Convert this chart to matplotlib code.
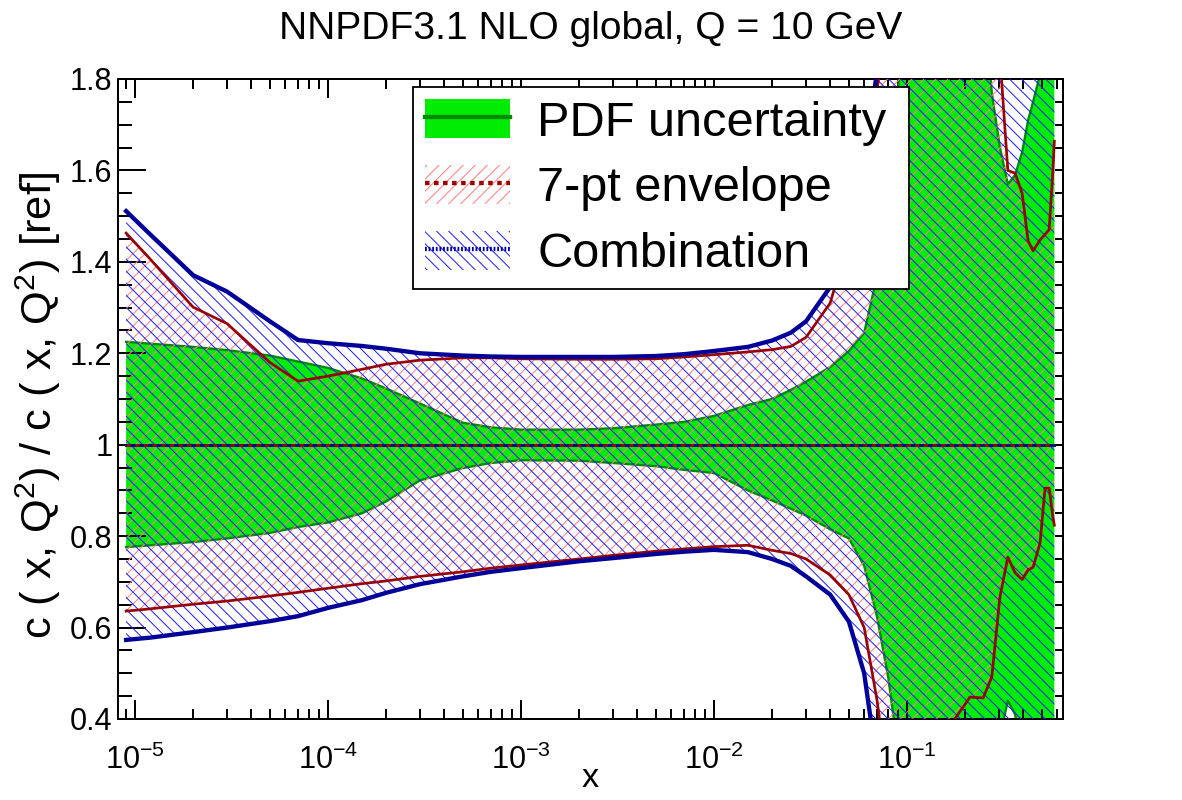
import numpy as np
import matplotlib
matplotlib.use('Agg')
import matplotlib.pyplot as plt
from matplotlib.patches import Patch
from matplotlib.lines import Line2D
from matplotlib.ticker import LogLocator, MultipleLocator, NullFormatter, FuncFormatter

DPI = 145
K = 130 / DPI  # sizes below were tuned for 130 dpi


def pt(v):
    return v * K


plt.rcParams['font.family'] = ['Liberation Sans', 'DejaVu Sans']
plt.rcParams['mathtext.fontset'] = 'custom'
plt.rcParams['mathtext.rm'] = 'Liberation Sans'
plt.rcParams['mathtext.it'] = 'Liberation Sans:italic'
plt.rcParams['mathtext.bf'] = 'Liberation Sans:bold'
plt.rcParams['hatch.linewidth'] = 0.5
plt.rcParams['lines.scale_dashes'] = False

# x grid
x = [9e-6, 1.2e-5, 2e-5, 3e-5, 5e-5, 7e-5, 1e-4, 1.5e-4, 2e-4, 3e-4,
     5e-4, 7e-4, 1e-3, 2e-3, 3e-3, 5e-3, 7e-3, 1e-2, 1.5e-2, 2e-2,
     2.5e-2, 3e-2, 4e-2, 5e-2, 6e-2, 7e-2, 8e-2, 9e-2, 0.1, 0.12,
     0.15, 0.177, 0.212, 0.248, 0.275, 0.303, 0.333, 0.363, 0.395, 0.424,
     0.45, 0.489, 0.519, 0.545, 0.57, 0.58]

# PDF uncertainty band
pdf_hi = [1.225, 1.221, 1.214, 1.207, 1.195, 1.182, 1.168, 1.145, 1.123, 1.09,
          1.048, 1.038, 1.033, 1.033, 1.036, 1.044, 1.05, 1.063, 1.087, 1.10,
          1.12, 1.138, 1.17, 1.205, 1.245, 1.37, 1.6, 1.78, 1.95, 2.2,
          2.3, 2.3, 2.2, 2.0, 1.77, 1.65, 1.57, 1.59, 1.64, 1.71,
          1.75, 1.81, 2.0, 2.2, 2.2, 2.2]
pdf_lo = [0.776, 0.78, 0.787, 0.795, 0.807, 0.82, 0.83, 0.85, 0.876, 0.922,
          0.949, 0.96, 0.966, 0.965, 0.96, 0.953, 0.945, 0.938, 0.90, 0.878,
          0.86, 0.845, 0.815, 0.795, 0.735, 0.623, 0.49, 0.33, 0.25, 0.15,
          0.15, 0.15, 0.2, 0.2, 0.3, 0.36, 0.44, 0.41, 0.32, 0.2,
          0.2, 0.2, 0.2, 0.2, 0.2, 0.2]

# 7-pt scale variation envelope
sv_hi = [1.463, 1.406, 1.301, 1.265, 1.18, 1.139, 1.15, 1.165, 1.176, 1.185,
         1.19, 1.19, 1.188, 1.187, 1.187, 1.188, 1.192, 1.197, 1.203, 1.208,
         1.215, 1.235, 1.31, 1.45, 1.65, 1.78, 1.92, 2.05, 2.1, 2.1,
         2.1, 2.1, 2.1, 2.05, 2.0, 1.85, 1.6, 1.594, 1.55, 1.446,
         1.424, 1.448, 1.46, 1.47, 1.6, 1.664]
sv_lo = [0.636, 0.641, 0.651, 0.658, 0.669, 0.677, 0.686, 0.696, 0.702, 0.712,
         0.722, 0.73, 0.737, 0.75, 0.758, 0.767, 0.772, 0.777, 0.78, 0.769,
         0.762, 0.75, 0.715, 0.672, 0.6, 0.44, 0.25, 0.2, 0.2, 0.2,
         0.3, 0.4, 0.448, 0.446, 0.492, 0.667, 0.754, 0.72, 0.705, 0.726,
         0.732, 0.785, 0.905, 0.905, 0.842, 0.824]

# combination
comb_hi = [1.511, 1.46, 1.371, 1.335, 1.27, 1.229, 1.222, 1.216, 1.21, 1.2,
           1.195, 1.193, 1.192, 1.192, 1.192, 1.194, 1.198, 1.205, 1.214, 1.228,
           1.245, 1.27, 1.345, 1.45, 1.6, 1.82, 2.2, 2.5, 2.5, 2.5,
           2.5, 2.5, 2.5, 2.5, 2.5, 2.5, 2.5, 2.5, 2.5, 2.5,
           2.5, 2.5, 2.5, 2.5, 2.5, 2.5]
comb_lo = [0.573, 0.578, 0.59, 0.6, 0.614, 0.625, 0.643, 0.66, 0.676, 0.695,
           0.712, 0.722, 0.73, 0.745, 0.752, 0.761, 0.766, 0.77, 0.765, 0.75,
           0.735, 0.712, 0.672, 0.613, 0.5, 0.3, 0.1, 0.0, 0.0, 0.0,
           0.0, 0.0, 0.0, 0.0, 0.0, 0.0, 0.0, 0.0, 0.0, 0.0,
           0.0, 0.0, 0.0, 0.0, 0.0, 0.0]

green = '#00ec00'
dgreen = '#008a00'
dred = '#990000'
lred = '#ff8080'
dblue = '#000099'
hblue = '#2020ff'

fig = plt.figure(figsize=(1182 / DPI, 800 / DPI), dpi=DPI)
ax = fig.add_axes([118 / 1182, 81 / 800, 945 / 1182, 640 / 800])

ax.fill_between(x, pdf_lo, pdf_hi, facecolor=green, edgecolor='none', linewidth=0, zorder=1)
ax.plot(x, pdf_hi, color=dgreen, lw=pt(1.3), zorder=2)
ax.plot(x, pdf_lo, color=dgreen, lw=pt(1.3), zorder=2)
ax.fill_between(x, sv_lo, sv_hi, facecolor='none', edgecolor=lred, hatch='////', linewidth=0, zorder=3)
ax.fill_between(x, comb_lo, comb_hi, facecolor='none', edgecolor=hblue, hatch='\\\\\\\\', linewidth=0, zorder=4)

# central values
ax.plot([x[0], x[-1]], [1, 1], color=dblue, lw=pt(1.6), zorder=5)
ax.plot([x[0], x[-1]], [1, 1], color=dred, lw=pt(1.6), dashes=(pt(2.4), pt(2.4)), zorder=5)

ax.plot(x, sv_hi, color=dred, lw=pt(1.5), zorder=6)
ax.plot(x, sv_lo, color=dred, lw=pt(1.5), zorder=6)
ax.plot(x, comb_hi, color=dblue, lw=pt(2.4), zorder=7)
ax.plot(x, comb_lo, color=dblue, lw=pt(2.4), zorder=7)

ax.set_xscale('log')
ax.set_xlim(8.17e-6, 0.643)
ax.set_ylim(0.4, 1.8)

ax.xaxis.set_major_locator(LogLocator(base=10, numticks=20))
ax.xaxis.set_minor_locator(LogLocator(base=10, subs=np.arange(2, 10), numticks=100))
ax.xaxis.set_minor_formatter(NullFormatter())
ax.yaxis.set_major_locator(MultipleLocator(0.2))
ax.yaxis.set_minor_locator(MultipleLocator(0.05))
ax.yaxis.set_major_formatter(FuncFormatter(lambda v, p: '%g' % round(v, 2)))

ax.tick_params(axis='y', which='major', direction='in', length=pt(15.5), width=pt(1.1),
               left=True, right=False, labelsize=pt(17), pad=pt(3))
ax.tick_params(axis='y', which='minor', direction='in', length=pt(7.8), width=pt(1.1),
               left=True, right=False)
ax.tick_params(axis='x', which='major', direction='in', length=pt(10.5), width=pt(1.1),
               top=True, bottom=True, labelsize=pt(17), pad=pt(14))
ax.tick_params(axis='x', which='minor', direction='in', length=pt(5.3), width=pt(1.1),
               top=True, bottom=True)

sec = ax.secondary_yaxis('right')
sec.yaxis.set_major_locator(MultipleLocator(0.05))
sec.tick_params(axis='y', which='major', direction='in', length=pt(4.5), width=pt(1.1),
                labelright=False)
sec.tick_params(axis='y', which='minor', length=0)
sec.spines['right'].set_linewidth(pt(1.1))

for s in ax.spines.values():
    s.set_linewidth(pt(1.1))

ax.set_title('NNPDF3.1 NLO global, Q = 10 GeV', fontsize=pt(21.6), pad=pt(22))
ax.set_xlabel('x', fontsize=pt(19))
ax.xaxis.set_label_coords(0.5, -0.068)
ax.set_ylabel(r'c ( x, Q$^{2}$) / c ( x, Q$^{2}$) [ref]', fontsize=pt(24))
ax.yaxis.set_label_coords(-0.058, 0.49)

handles = [
    (Patch(facecolor=green, edgecolor='none'), Line2D([], [], color=dgreen, lw=pt(2.4))),
    (Patch(facecolor='white', edgecolor=lred, hatch='////', linewidth=0),
     Line2D([], [], color=dred, lw=pt(2.4), dashes=(pt(2.5), pt(2.5)))),
    (Patch(facecolor='white', edgecolor=hblue, hatch='\\\\\\\\', linewidth=0),
     Line2D([], [], color=dblue, lw=pt(2.4), dashes=(pt(1.0), pt(1.0)))),
]
labels = ['PDF uncertainty', '7-pt envelope', 'Combination']
leg = ax.legend(handles, labels, loc='upper left', bbox_to_anchor=(0.312, 0.675, 0.525, 0.3125),
                mode='expand', fontsize=pt(27), frameon=True, fancybox=False, shadow=False,
                framealpha=1, handlelength=1.75, handleheight=0.85, handletextpad=0.55,
                labelspacing=0.4, borderpad=0.25, borderaxespad=0)
leg.get_frame().set_edgecolor('black')
leg.get_frame().set_linewidth(pt(1.0))
leg.set_zorder(10)

fig.savefig('out.png', dpi=DPI)
